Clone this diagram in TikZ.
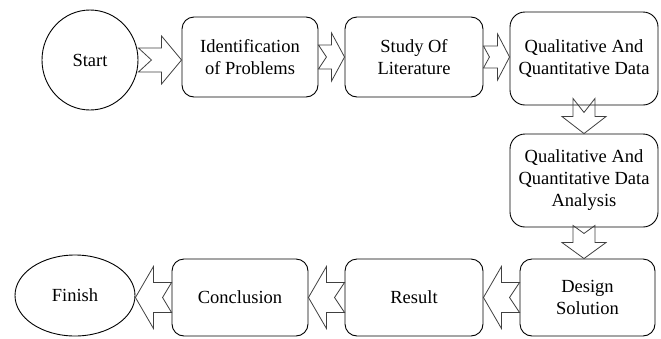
\documentclass[tikz,border=0pt]{standalone}
\usepackage{fontspec}
\setmainfont{Liberation Serif}
\usetikzlibrary{calc,shapes.geometric}
\begin{document}
\begin{tikzpicture}[x=1pt,y=-1pt,
  txt/.style={font=\fontsize{18.5}{22}\selectfont, align=center, inner sep=0pt},
  box/.style={txt, draw=black, line width=0.9pt, rounded corners=12pt},
  oval/.style={txt, draw=black, line width=0.9pt, ellipse},
  flow/.style={draw=black!75, line width=0.8pt, line join=miter},
  notched/.style n args={4}{to path={
    let \p1=(\tikztostart), \p2=(\tikztotarget),
        \n1={veclen(\x2-\x1,\y2-\y1)},
        \n2={(\x2-\x1)/\n1}, \n3={(\y2-\y1)/\n1} in
    ({\x1-#1*\n3},{\y1+#1*\n2})
    -- ({\x2-#3*\n2-#1*\n3},{\y2-#3*\n3+#1*\n2})
    -- ({\x2-#3*\n2-#2*\n3},{\y2-#3*\n3+#2*\n2})
    -- (\x2,\y2)
    -- ({\x2-#3*\n2+#2*\n3},{\y2-#3*\n3-#2*\n2})
    -- ({\x2-#3*\n2+#1*\n3},{\y2-#3*\n3-#1*\n2})
    -- ({\x1+#1*\n3},{\y1-#1*\n2})
    -- ({\x1+#4*\n2},{\y1+#4*\n3})
    -- cycle}}]
\useasboundingbox (0,0) rectangle (661,338);

\node[oval, minimum width=96pt, minimum height=100pt] (start) at (90,60) {Start};
\node[box, minimum width=136pt, minimum height=80pt] (ident) at (250,57) {Identification\\of Problems};
\node[box, minimum width=138pt, minimum height=80pt] (lit) at (414,57) {Study Of\\Literature};
\node[box, minimum width=148pt, minimum height=93pt, rounded corners=15pt] (qq) at (584,58.5) {Qualitative And\\Quantitative Data};
\node[box, minimum width=148pt, minimum height=93pt, rounded corners=15pt] (qqa) at (584,180.5) {Qualitative And\\Quantitative Data\\Analysis};
\node[box, minimum width=135pt, minimum height=77pt] (design) at (587.5,297.5) {Design\\Solution};
\node[box, minimum width=138pt, minimum height=77pt] (result) at (414,297.5) {Result};
\node[box, minimum width=136pt, minimum height=77pt] (concl) at (240,297.5) {Conclusion};
\node[oval, minimum width=120pt, minimum height=81pt] (finish) at (75,295.5) {Finish};

\draw[flow] (start.east) to[notched={12}{24}{20}{13}] (start.east -| ident.west);
\draw[flow] (ident.east) to[notched={12}{24}{13}{8}] (lit.west);
\draw[flow] (lit.east) to[notched={11}{23}{12}{6}] (lit.east -| qq.west);
\draw[flow] ([yshift=7pt]qq.south) to[notched={11}{22}{17}{14}] (qq.south |- qqa.north);
\draw[flow] ([yshift=2pt]qqa.south) to[notched={11}{22}{16}{8}] (qqa.south |- design.north);
\draw[flow] (design.west) to[notched={15}{31}{18}{10}] (design.west -| result.east);
\draw[flow] (result.west) to[notched={15}{31}{18}{10}] (result.west -| concl.east);
\draw[flow] (concl.west) to[notched={15}{31}{18}{9}] (concl.west -| finish.east);
\end{tikzpicture}
\end{document}
